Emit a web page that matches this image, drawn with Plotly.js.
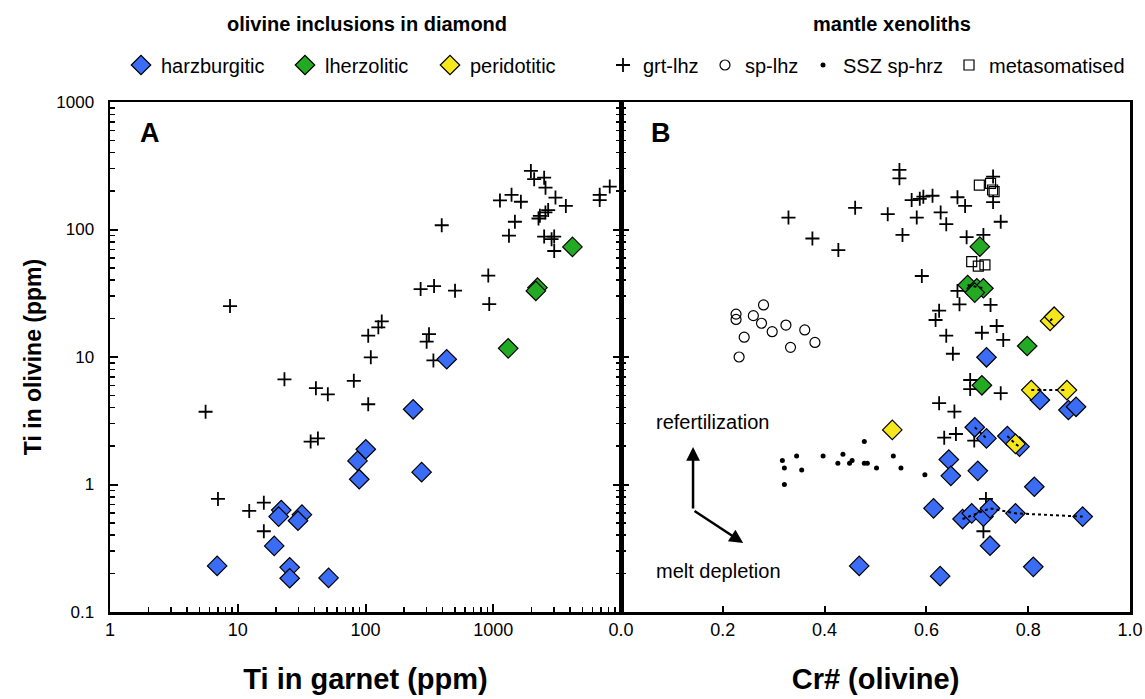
<!DOCTYPE html>
<html>
<head>
<meta charset="utf-8">
<script src="https://cdn.plot.ly/plotly-3.0.1.min.js"></script>
<style>
  html, body { margin: 0; padding: 0; background: #fff; }
  #chart { width: 1145px; height: 699px; }
</style>
</head>
<body>
<div id="chart"></div>
<script>
// ---------- Panel A: Ti in garnet vs Ti in olivine (ppm) ----------
const aGrtLhzTiGrt = [5.6, 8.7, 7.0, 12.3, 16.0, 16.0, 23.2, 37.2, 42.4, 40.9, 50.7, 81, 105, 110, 105, 126, 134,
  301, 314, 340, 270, 344, 395, 502, 914, 930, 1128, 1327, 1477, 1390, 1645, 1970, 2090, 2502, 2564, 3068, 3700,
  2690, 2560, 2317, 2260, 2502, 2998, 2860, 3000, 6810, 6810, 8160];
const aGrtLhzTiOl = [3.72, 25.1, 0.77, 0.62, 0.72, 0.43, 6.68, 2.17, 2.30, 5.69, 5.1, 6.5, 4.26, 9.95, 14.7, 17.1, 19.0,
  13.2, 15.1, 9.4, 34.1, 36, 108, 33.1, 43.5, 26.0, 169, 89.5, 115, 187, 165, 288, 248, 255, 213, 178, 153,
  142, 136, 128, 122, 88, 88, 84, 67.8, 187, 170, 217];

const aHarzTiGrt = [21.9, 20.9, 31.8, 29.6, 19.3, 6.9, 25.5, 25.5, 51.4, 86.6, 89.3, 100.5, 236, 275, 432];
const aHarzTiOl  = [0.63, 0.56, 0.58, 0.52, 0.33, 0.23, 0.224, 0.184, 0.185, 1.53, 1.10, 1.89, 3.89, 1.25, 9.6];

const aLherzTiGrt = [1309, 2219, 2155, 4167];
const aLherzTiOl  = [11.7, 35, 33, 73];

// ---------- Panel B: Cr# (olivine) vs Ti in olivine (ppm) ----------
const bGrtLhzCr = [0.329, 0.376, 0.427, 0.460, 0.547, 0.547, 0.571, 0.553, 0.524, 0.581, 0.587, 0.594, 0.612,
  0.661, 0.676, 0.628, 0.639, 0.731, 0.731, 0.746, 0.679, 0.712, 0.591, 0.661, 0.665, 0.726, 0.625, 0.618,
  0.639, 0.709, 0.738, 0.751, 0.652, 0.686, 0.686, 0.746, 0.625, 0.655, 0.635, 0.658, 0.694, 0.717, 0.712];
const bGrtLhzTi = [124, 85, 69, 148, 293, 252, 170, 90.6, 132, 124, 174, 181, 184,
  179, 153, 136, 110, 260, 164, 115, 87, 90.6, 43.2, 33, 25.9, 25.6, 23.1, 19.5,
  14.7, 15.5, 17.5, 13.6, 10.6, 6.6, 5.6, 5.2, 4.34, 3.73, 2.33, 2.49, 2.21, 0.77, 0.43];

const bSpLhzCr = [0.226, 0.226, 0.280, 0.260, 0.276, 0.242, 0.297, 0.324, 0.361, 0.381, 0.333, 0.232];
const bSpLhzTi = [21.7, 19.7, 25.6, 21.1, 18.4, 14.3, 15.8, 17.8, 16.3, 13.0, 11.9, 10.0];

const bSszCr = [0.317, 0.321, 0.321, 0.345, 0.355, 0.397, 0.426, 0.436, 0.449, 0.454, 0.478, 0.478, 0.484,
  0.502, 0.535, 0.550, 0.597];
const bSszTi = [1.54, 1.35, 1.0, 1.67, 1.30, 1.67, 1.47, 1.73, 1.47, 1.54, 2.17, 1.47, 1.47,
  1.35, 1.67, 1.35, 1.19];

const bMetaCr = [0.704, 0.726, 0.730, 0.733, 0.689, 0.702, 0.715];
const bMetaTi = [223, 230, 204, 198, 55.9, 51.7, 52.7];

const bHarzCr = [0.468, 0.718, 0.823, 0.879, 0.894, 0.695, 0.718, 0.759, 0.783, 0.644, 0.648, 0.701, 0.812,
  0.614, 0.671, 0.689, 0.712, 0.725, 0.775, 0.907, 0.725, 0.810, 0.627];
const bHarzTi = [0.23, 9.95, 4.6, 3.84, 4.07, 2.81, 2.30, 2.40, 1.98, 1.57, 1.17, 1.28, 0.96,
  0.65, 0.536, 0.594, 0.56, 0.65, 0.594, 0.56, 0.331, 0.226, 0.191];

const bLherzCr = [0.705, 0.681, 0.699, 0.712, 0.695, 0.798, 0.709];
const bLherzTi = [73.3, 36.7, 34.6, 34.6, 32, 12.2, 6.0];

const bPeridCr = [0.533, 0.806, 0.876, 0.775, 0.843, 0.851];
const bPeridTi = [2.68, 5.5, 5.5, 2.08, 19.2, 20.7];

// dotted tie lines joining analyses of the same grain
const tieLines = [
  { cr: [0.806, 0.876], ti: [5.5, 5.5] },
  { cr: [0.671, 0.725, 0.775, 0.907], ti: [0.536, 0.65, 0.594, 0.56] },
  { cr: [0.695, 0.718], ti: [2.81, 2.30] },
  { cr: [0.759, 0.775, 0.783], ti: [2.40, 2.08, 1.98] },
  { cr: [0.681, 0.712], ti: [36.7, 34.6] },
  { cr: [0.843, 0.851], ti: [19.2, 20.7] }
];

// axis ticks
const logMajor = [0.1, 1, 10, 100, 1000];
const logMajorText = ['0.1', '1', '10', '100', '1000'];
const garnetMajor = [1, 10, 100, 1000, 10000];
const garnetMajorText = ['1', '10', '100', '1000', ''];

// legend labels
const legendNames = ['harzburgitic', 'lherzolitic', 'peridotitic', 'grt-lhz', 'sp-lhz', 'SSZ sp-hrz', 'metasomatised'];
const groupTitles = ['olivine inclusions in diamond', 'mantle xenoliths'];

// ---------- styling ----------
const FONT = 'Arial, "Liberation Sans", sans-serif';
const BLUE = '#3b6cf6', GREEN = '#22ab22', YELLOW = '#f6e61c';

function minorLog(lo, hi) {
  const out = [];
  for (let e = lo; e < hi; e++) for (let k = 2; k <= 9; k++) out.push(k * Math.pow(10, e));
  return out;
}

const diamond = c => ({ symbol: 'diamond', size: 15, color: c, line: { color: '#000', width: 1.2 } });
const crossM = { symbol: 'cross-thin', size: 10, line: { color: '#000', width: 1.8 } };
const circM = { symbol: 'circle-open', size: 10, color: '#000', line: { color: '#000', width: 1.2 } };
const dotM = { symbol: 'circle', size: 5, color: '#000' };
const squareM = { symbol: 'square-open', size: 10, color: '#000', line: { color: '#000', width: 1.2 } };

const pts = (x, y, xa, ya, marker, name, legend) => ({
  type: 'scatter', mode: 'markers', x, y, xaxis: xa, yaxis: ya, marker, name,
  showlegend: !!legend, legend: legend || 'legend', hoverinfo: 'skip'
});

const traces = [
  pts(aGrtLhzTiGrt, aGrtLhzTiOl, 'x', 'y', crossM, legendNames[3], 'legend4'),
  pts(aHarzTiGrt, aHarzTiOl, 'x', 'y', diamond(BLUE), legendNames[0], 'legend'),
  pts(aLherzTiGrt, aLherzTiOl, 'x', 'y', diamond(GREEN), legendNames[1], 'legend2'),

  pts(bGrtLhzCr, bGrtLhzTi, 'x2', 'y2', crossM, legendNames[3]),
  pts(bSpLhzCr, bSpLhzTi, 'x2', 'y2', circM, legendNames[4], 'legend5'),
  pts(bSszCr, bSszTi, 'x2', 'y2', dotM, legendNames[5], 'legend6'),
  pts(bMetaCr, bMetaTi, 'x2', 'y2', squareM, legendNames[6], 'legend7'),
  pts(bHarzCr, bHarzTi, 'x2', 'y2', diamond(BLUE), legendNames[0]),
  pts(bLherzCr, bLherzTi, 'x2', 'y2', diamond(GREEN), legendNames[1]),
  pts(bPeridCr, bPeridTi, 'x2', 'y2', diamond(YELLOW), legendNames[2], 'legend3')
];

tieLines.forEach(t => traces.push({
  type: 'scatter', mode: 'lines', x: t.cr, y: t.ti, xaxis: 'x2', yaxis: 'y2',
  line: { color: '#000', width: 2, dash: 'dot' }, showlegend: false, hoverinfo: 'skip'
}));

// legend boxes: symbol centre positions in px across the top strip
const legendSymbolX = [141, 305, 450, 623, 725, 823, 969];
const W = 1145, H = 699;
const legendRowY = 65;

const axisCommon = {
  showline: true, linecolor: '#000', linewidth: 2.5,
  ticks: 'inside', ticklen: 8, tickwidth: 2, tickcolor: '#000',
  showgrid: false, zeroline: false,
  tickfont: { family: FONT, size: 18, color: '#000' }
};

// paper coordinates for a pixel position in the plotting area
const px2paperX = p => (p - 110) / 1020;
const px2paperY = p => (612 - p) / 510;

const layout = {
  width: W, height: H,
  paper_bgcolor: '#fff', plot_bgcolor: '#fff',
  margin: { l: 110, r: 15, t: 102, b: 87 },
  font: { family: FONT, color: '#000' },
  xaxis: Object.assign({}, axisCommon, {
    type: 'log', domain: [0, 0.501], range: [0, 4], anchor: 'y', mirror: true,
    tickmode: 'array', tickvals: garnetMajor, ticktext: garnetMajorText,
    minor: { tickmode: 'array', tickvals: minorLog(0, 4), ticks: 'inside', ticklen: 5, tickwidth: 1.5, tickcolor: '#000' },
    title: { text: '<b>Ti in garnet (ppm)</b>', font: { family: FONT, size: 29 }, standoff: 30 },
    automargin: false
  }),
  yaxis: Object.assign({}, axisCommon, {
    type: 'log', range: [-1, 3], anchor: 'x', mirror: 'ticks',
    tickmode: 'array', tickvals: logMajor, ticktext: logMajorText,
    tickfont: { family: FONT, size: 17, color: '#000' }, ticklabelstandoff: 10,
    minor: { tickmode: 'array', tickvals: minorLog(-1, 3), ticks: 'inside', ticklen: 5, tickwidth: 1.5, tickcolor: '#000' },
    title: { text: '<b>Ti in olivine (ppm)</b>', font: { family: FONT, size: 23 }, standoff: 8 },
    automargin: false
  }),
  xaxis2: Object.assign({}, axisCommon, {
    domain: [0.501, 1], range: [0, 1], anchor: 'y2', mirror: true,
    tickmode: 'linear', tick0: 0, dtick: 0.2, tickformat: '.1f', ticklen: 6,
    title: { text: '<b>Cr# (olivine)</b>', font: { family: FONT, size: 29 }, standoff: 30 },
    automargin: false
  }),
  yaxis2: Object.assign({}, axisCommon, {
    type: 'log', range: [-1, 3], anchor: 'x2', mirror: true, showticklabels: false,
    tickmode: 'array', tickvals: logMajor,
    minor: { tickmode: 'array', tickvals: minorLog(-1, 3), ticks: 'inside', ticklen: 5, tickwidth: 1.5, tickcolor: '#000' }
  }),
  annotations: [
    { xref: 'paper', yref: 'paper', x: px2paperX(367), y: px2paperY(24), xanchor: 'center', yanchor: 'middle',
      text: '<b>' + groupTitles[0] + '</b>', showarrow: false, font: { family: FONT, size: 20 } },
    { xref: 'paper', yref: 'paper', x: px2paperX(892), y: px2paperY(24), xanchor: 'center', yanchor: 'middle',
      text: '<b>' + groupTitles[1] + '</b>', showarrow: false, font: { family: FONT, size: 20 } },
    { xref: 'paper', yref: 'paper', x: px2paperX(150), y: px2paperY(133), xanchor: 'center', yanchor: 'middle',
      text: '<b>A</b>', showarrow: false, font: { family: FONT, size: 27 } },
    { xref: 'paper', yref: 'paper', x: px2paperX(661), y: px2paperY(133), xanchor: 'center', yanchor: 'middle',
      text: '<b>B</b>', showarrow: false, font: { family: FONT, size: 27 } },
    { xref: 'x2', yref: 'y2', x: 0.064, y: Math.log10(3.1), text: 'refertilization', showarrow: false,
      xanchor: 'left', yanchor: 'middle', font: { family: FONT, size: 20 } },
    { xref: 'x2', yref: 'y2', x: 0.064, y: Math.log10(0.21), text: 'melt depletion', showarrow: false,
      xanchor: 'left', yanchor: 'middle', font: { family: FONT, size: 20 } },
    // process arrows
    { xref: 'x2', yref: 'y2', axref: 'x2', ayref: 'y2', x: 0.1415, y: Math.log10(1.97),
      ax: 0.1415, ay: Math.log10(0.63), text: '', showarrow: true, arrowhead: 2, arrowsize: 1.1,
      arrowwidth: 2.5, arrowcolor: '#000' },
    { xref: 'x2', yref: 'y2', axref: 'x2', ayref: 'y2', x: 0.240, y: Math.log10(0.348),
      ax: 0.1415, ay: Math.log10(0.63), text: '', showarrow: true, arrowhead: 2, arrowsize: 1.1,
      arrowwidth: 2.5, arrowcolor: '#000' }
  ]
};

// one single-entry legend per symbol, laid out along the top strip
['legend', 'legend2', 'legend3', 'legend4', 'legend5', 'legend6', 'legend7'].forEach((key, i) => {
  layout[key] = {
    xref: 'container', yref: 'container',
    x: (legendSymbolX[i] - 20) / W, y: 1 - legendRowY / H,
    xanchor: 'left', yanchor: 'middle', orientation: 'h',
    bgcolor: 'rgba(0,0,0,0)', borderwidth: 0,
    font: { family: FONT, size: 20, color: '#000' },
    itemclick: false, itemdoubleclick: false
  };
});

Plotly.newPlot('chart', traces, layout, { staticPlot: true });
</script>
</body>
</html>
